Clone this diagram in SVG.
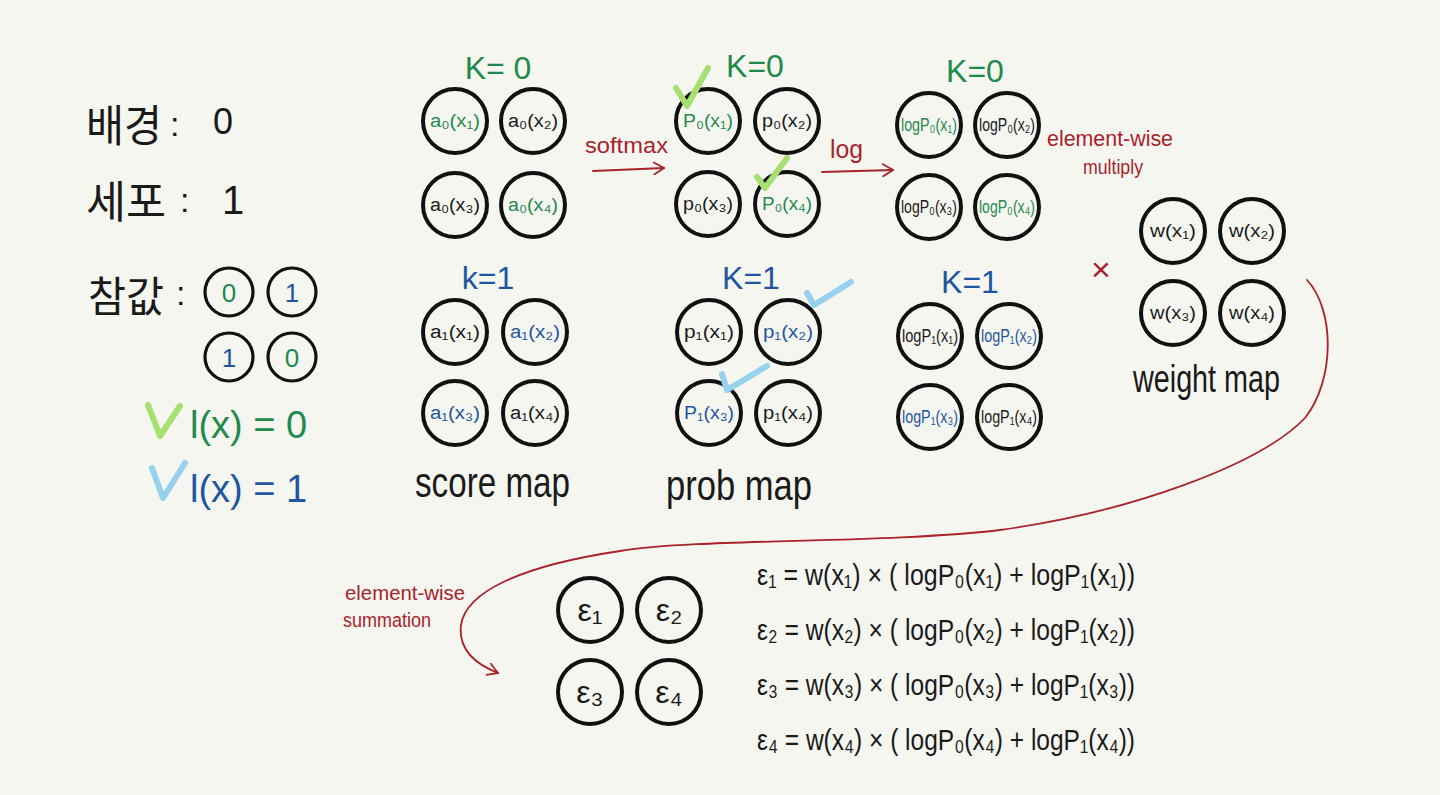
<svg xmlns="http://www.w3.org/2000/svg" width="1440" height="795" viewBox="0 0 1440 795">
<style>
.bg{fill:#f6f6f1}
.c{fill:none;stroke:#111;stroke-width:4}
.cs{fill:none;stroke:#111;stroke-width:3.2}
.t{font-family:"Liberation Sans","DejaVu Sans",sans-serif;text-anchor:middle;dominant-baseline:central}
.ct{font-size:18px}
.lbl{font-family:"Liberation Sans","DejaVu Sans",sans-serif;fill:#1a1a1a}
.kor{font-family:"Noto Sans CJK KR","Noto Sans",sans-serif;fill:#1a1a1a}
.blk{fill:#1a1a1a}
.grn{fill:#1e8a4c}
.blu{fill:#1f56a0}
.red{fill:#a8232a}
.ln{fill:none;stroke:#a8232a;stroke-width:1.8;stroke-linecap:round}
.ckg{fill:none;stroke:#a6e070;stroke-width:6;stroke-linecap:round;stroke-linejoin:round}
.ckb{fill:none;stroke:#96d2ee;stroke-width:6;stroke-linecap:round;stroke-linejoin:round}
.eq{font-family:"Liberation Sans","DejaVu Sans",sans-serif;font-size:30px;fill:#1a1a1a}
</style>
<defs>
<marker id="ah" markerWidth="12" markerHeight="14" refX="11" refY="7" orient="auto" markerUnits="userSpaceOnUse">
<path d="M1 1 L11 7 L1 13" fill="none" stroke="#a8232a" stroke-width="1.8" stroke-linecap="round"/>
</marker>
</defs>
<rect class="bg" x="0" y="0" width="1440" height="795"/>

<!-- legend -->
<g id="legend">
<text class="kor" x="86" y="142" font-size="44" textLength="76" lengthAdjust="spacingAndGlyphs">배경</text>
<text class="lbl" x="170" y="136" font-size="34">:</text>
<text class="lbl" x="213" y="134" font-size="36">0</text>
<text class="kor" x="86" y="218" font-size="44" textLength="80" lengthAdjust="spacingAndGlyphs">세포</text>
<text class="lbl" x="180" y="212" font-size="34">:</text>
<text class="lbl" x="222" y="214" font-size="40">1</text>
<text class="kor" x="88" y="312" font-size="42" textLength="76" lengthAdjust="spacingAndGlyphs">참값</text>
<text class="lbl" x="176" y="305" font-size="34">:</text>
</g>
<g id="gt">
<circle class="cs" cx="229" cy="292" r="24"/>
<circle class="cs" cx="292" cy="292" r="24"/>
<circle class="cs" cx="229" cy="357" r="24"/>
<circle class="cs" cx="292" cy="357" r="24"/>
<text class="t grn" x="229" y="293" font-size="26">0</text>
<text class="t blu" x="292" y="293" font-size="26">1</text>
<text class="t blu" x="229" y="358" font-size="26">1</text>
<text class="t grn" x="292" y="358" font-size="26">0</text>
</g>
<g id="key0">
<path class="ckg" d="M148 405 L160 436 L180 406"/>
<text class="lbl" x="190" y="438" font-size="38" style="fill:#1e8a4c">l(x) = 0</text>
</g>
<g id="key1">
<path class="ckb" d="M152 468 L163 498 L185 463"/>
<text class="lbl" x="190" y="502" font-size="38" style="fill:#1f56a0">l(x) = 1</text>
</g>

<!-- score map -->
<g id="score-k0">
<text class="t grn" x="498" y="68" font-size="32">K= 0</text>
<circle class="c" cx="455" cy="121" r="32"/><text class="t ct grn" x="455" y="121" textLength="50" lengthAdjust="spacingAndGlyphs">a₀(x₁)</text>
<circle class="c" cx="533" cy="121" r="32"/><text class="t ct blk" x="533" y="121" textLength="50" lengthAdjust="spacingAndGlyphs">a₀(x₂)</text>
<circle class="c" cx="455" cy="205" r="32"/><text class="t ct blk" x="455" y="205" textLength="50" lengthAdjust="spacingAndGlyphs">a₀(x₃)</text>
<circle class="c" cx="533" cy="205" r="32"/><text class="t ct grn" x="533" y="205" textLength="50" lengthAdjust="spacingAndGlyphs">a₀(x₄)</text>
</g>
<g id="score-k1">
<text class="t blu" x="488" y="278" font-size="32">k=1</text>
<circle class="c" cx="455" cy="332" r="32"/><text class="t ct blk" x="455" y="332" textLength="50" lengthAdjust="spacingAndGlyphs">a₁(x₁)</text>
<circle class="c" cx="535" cy="332" r="32"/><text class="t ct blu" x="535" y="332" textLength="50" lengthAdjust="spacingAndGlyphs">a₁(x₂)</text>
<circle class="c" cx="455" cy="413" r="32"/><text class="t ct blu" x="455" y="413" textLength="50" lengthAdjust="spacingAndGlyphs">a₁(x₃)</text>
<circle class="c" cx="535" cy="413" r="32"/><text class="t ct blk" x="535" y="413" textLength="50" lengthAdjust="spacingAndGlyphs">a₁(x₄)</text>
<text class="lbl" x="415" y="497" font-size="42" textLength="155" lengthAdjust="spacingAndGlyphs">score map</text>
</g>

<!-- prob map -->
<g id="prob-k0">
<text class="t grn" x="755" y="66" font-size="32">K=0</text>
<circle class="c" cx="708" cy="121" r="32"/><text class="t ct grn" x="708" y="121" textLength="50" lengthAdjust="spacingAndGlyphs">P₀(x₁)</text>
<circle class="c" cx="787" cy="121" r="32"/><text class="t ct blk" x="787" y="121" textLength="50" lengthAdjust="spacingAndGlyphs">p₀(x₂)</text>
<circle class="c" cx="708" cy="204" r="32"/><text class="t ct blk" x="708" y="204" textLength="50" lengthAdjust="spacingAndGlyphs">p₀(x₃)</text>
<circle class="c" cx="787" cy="204" r="32"/><text class="t ct grn" x="787" y="204" textLength="50" lengthAdjust="spacingAndGlyphs">P₀(x₄)</text>
<path class="ckg" d="M676 88 L687 106 L708 68"/>
<path class="ckg" d="M757 177 L765 188 L787 158"/>
</g>
<g id="prob-k1">
<text class="t blu" x="751" y="278" font-size="32">K=1</text>
<circle class="c" cx="709" cy="332" r="32"/><text class="t ct blk" x="709" y="332" textLength="50" lengthAdjust="spacingAndGlyphs">p₁(x₁)</text>
<circle class="c" cx="788" cy="332" r="32"/><text class="t ct blu" x="788" y="332" textLength="50" lengthAdjust="spacingAndGlyphs">p₁(x₂)</text>
<circle class="c" cx="709" cy="413" r="32"/><text class="t ct blu" x="709" y="413" textLength="50" lengthAdjust="spacingAndGlyphs">P₁(x₃)</text>
<circle class="c" cx="788" cy="413" r="32"/><text class="t ct blk" x="788" y="413" textLength="50" lengthAdjust="spacingAndGlyphs">p₁(x₄)</text>
<path class="ckb" d="M807 293 L814 305 L851 282"/>
<path class="ckb" d="M722 374 L727 390 L767 366"/>
<text class="lbl" x="666" y="500" font-size="42" textLength="146" lengthAdjust="spacingAndGlyphs">prob map</text>
</g>

<!-- log map -->
<g id="log-k0">
<text class="t grn" x="975" y="71" font-size="32">K=0</text>
<circle class="c" cx="929" cy="125" r="32"/><text class="t ct grn" x="929" y="125" textLength="56" lengthAdjust="spacingAndGlyphs">logP₀(x₁)</text>
<circle class="c" cx="1007" cy="125" r="32"/><text class="t ct blk" x="1007" y="125" textLength="56" lengthAdjust="spacingAndGlyphs">logP₀(x₂)</text>
<circle class="c" cx="929" cy="207" r="32"/><text class="t ct blk" x="929" y="207" textLength="56" lengthAdjust="spacingAndGlyphs">logP₀(x₃)</text>
<circle class="c" cx="1007" cy="207" r="32"/><text class="t ct grn" x="1007" y="207" textLength="56" lengthAdjust="spacingAndGlyphs">logP₀(x₄)</text>
</g>
<g id="log-k1">
<text class="t blu" x="970" y="282" font-size="32">K=1</text>
<circle class="c" cx="930" cy="336" r="32"/><text class="t ct blk" x="930" y="336" textLength="56" lengthAdjust="spacingAndGlyphs">logP₁(x₁)</text>
<circle class="c" cx="1009" cy="336" r="32"/><text class="t ct blu" x="1009" y="336" textLength="56" lengthAdjust="spacingAndGlyphs">logP₁(x₂)</text>
<circle class="c" cx="930" cy="417" r="32"/><text class="t ct blu" x="930" y="417" textLength="56" lengthAdjust="spacingAndGlyphs">logP₁(x₃)</text>
<circle class="c" cx="1009" cy="417" r="32"/><text class="t ct blk" x="1009" y="417" textLength="56" lengthAdjust="spacingAndGlyphs">logP₁(x₄)</text>
</g>

<!-- weight map -->
<g id="weight">
<circle class="c" cx="1173" cy="231" r="32"/><text class="t ct blk" x="1173" y="231" textLength="46" lengthAdjust="spacingAndGlyphs">w(x₁)</text>
<circle class="c" cx="1252" cy="231" r="32"/><text class="t ct blk" x="1252" y="231" textLength="46" lengthAdjust="spacingAndGlyphs">w(x₂)</text>
<circle class="c" cx="1173" cy="313" r="32"/><text class="t ct blk" x="1173" y="313" textLength="46" lengthAdjust="spacingAndGlyphs">w(x₃)</text>
<circle class="c" cx="1252" cy="313" r="32"/><text class="t ct blk" x="1252" y="313" textLength="46" lengthAdjust="spacingAndGlyphs">w(x₄)</text>
<text class="lbl" x="1133" y="392" font-size="38" textLength="147" lengthAdjust="spacingAndGlyphs">weight map</text>
</g>

<!-- epsilon -->
<g id="eps">
<circle class="c" cx="590" cy="610" r="32"/><text class="t blk" x="590" y="610" font-size="32">ε₁</text>
<circle class="c" cx="669" cy="610" r="32"/><text class="t blk" x="669" y="610" font-size="32">ε₂</text>
<circle class="c" cx="590" cy="692" r="32"/><text class="t blk" x="590" y="692" font-size="32">ε₃</text>
<circle class="c" cx="669" cy="692" r="32"/><text class="t blk" x="669" y="692" font-size="32">ε₄</text>
</g>
<g id="equations">
<text class="eq" x="757" y="585" textLength="378" lengthAdjust="spacingAndGlyphs">ε₁ = w(x₁) × ( logP₀(x₁) + logP₁(x₁))</text>
<text class="eq" x="757" y="640" textLength="378" lengthAdjust="spacingAndGlyphs">ε₂ = w(x₂) × ( logP₀(x₂) + logP₁(x₂))</text>
<text class="eq" x="757" y="695" textLength="378" lengthAdjust="spacingAndGlyphs">ε₃ = w(x₃) × ( logP₀(x₃) + logP₁(x₃))</text>
<text class="eq" x="757" y="750" textLength="378" lengthAdjust="spacingAndGlyphs">ε₄ = w(x₄) × ( logP₀(x₄) + logP₁(x₄))</text>
</g>

<!-- connectors -->
<g id="connectors">
<path class="ln" d="M593 171 L664 168" marker-end="url(#ah)"/>
<text class="lbl" style="fill:#a8232a" x="585" y="153" font-size="22" textLength="83" lengthAdjust="spacingAndGlyphs">softmax</text>
<path class="ln" d="M822 172 L893 170" marker-end="url(#ah)"/>
<text class="lbl" style="fill:#a8232a" x="830" y="158" font-size="26" textLength="33" lengthAdjust="spacingAndGlyphs">log</text>
<text class="lbl" style="fill:#a8232a" x="1047" y="146" font-size="22" textLength="126" lengthAdjust="spacingAndGlyphs">element-wise</text>
<text class="lbl" style="fill:#a8232a" x="1083" y="174" font-size="20" textLength="60" lengthAdjust="spacingAndGlyphs">multiply</text>
<text class="t red" x="1101" y="269" font-size="34">×</text>
<path class="ln" d="M1307 280 C1335 310 1335 380 1305 418 C1260 465 1130 512 1000 530 C880 544 700 538 620 551 C520 566 466 592 461 625 C458 650 475 664 498 673" marker-end="url(#ah)"/>
<text class="lbl" style="fill:#a8232a" x="345" y="600" font-size="20" textLength="120" lengthAdjust="spacingAndGlyphs">element-wise</text>
<text class="lbl" style="fill:#a8232a" x="343" y="627" font-size="20" textLength="88" lengthAdjust="spacingAndGlyphs">summation</text>
</g>
</svg>
